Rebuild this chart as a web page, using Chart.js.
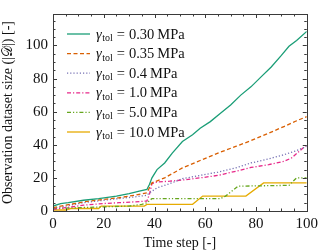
<!DOCTYPE html>
<html>
<head>
<meta charset="utf-8">
<script src="https://cdn.jsdelivr.net/npm/chart.js@4.4.1/dist/chart.umd.min.js"></script>
<style>
    html, body { margin: 0; padding: 0; background: #fff; }
    #wrap { width: 322px; height: 252px; position: relative; }
</style>
</head>
<body>
<div id="wrap"><canvas id="chart"></canvas></div>
<script>
const serif = "'Liberation Serif', 'DejaVu Serif', serif";
const frameColor = "#3a3a3a";

const tolLabels = ["0.30", "0.35", "0.4", "1.0", "5.0", "10.0"];
const lineColors = ["#1b9e77", "#d95f02", "#7570b3", "#e7298a", "#66a61e", "#e6ab02"];
const xTicks = [0, 20, 40, 60, 80, 100];
const yTicks = [0, 20, 40, 60, 80, 100];

// time step / dataset size
const steps030 = [0, 3, 6, 12, 18, 25, 30, 34, 37, 38, 39, 41, 44, 47, 51, 55, 58, 62, 66, 70, 74, 78, 82, 86, 90, 93, 96, 100];
const size030 = [3, 4.5, 5, 6.5, 7.5, 9, 10.5, 12, 13, 16, 20, 25, 29, 35, 42, 46, 50, 54, 59, 64, 70, 75, 81, 87, 94, 99.5, 103, 108.5];

const steps035 = [0, 5, 12, 20, 26, 32, 37, 38, 39, 44, 51, 58, 65, 72, 78, 85, 91, 96, 100];
const size035 = [2, 3.5, 5.5, 7, 8, 9.5, 11, 14, 17, 20, 26, 30.5, 35, 39, 42.5, 47, 51, 54.5, 57];

const steps04 = [0, 5, 12, 20, 26, 32, 37, 38, 41, 46, 51, 58, 65, 72, 78, 85, 91, 96, 100];
const size04 = [1.5, 3, 5, 6.5, 7.5, 8.5, 9.5, 11, 14, 16.5, 19.5, 21.5, 23.5, 26, 29, 31.5, 34, 36.5, 39];

const steps10 = [0, 5, 12, 20, 26, 32, 37, 38, 39, 41, 46, 51, 58, 65, 72, 78, 85, 91, 94, 97, 100];
const size10 = [1, 2, 3.5, 4.5, 5, 5.5, 6, 10, 16.5, 17.5, 18, 18.7, 20, 21.5, 24, 26.3, 28, 30, 32, 36, 40];

const steps50 = [0, 10, 20, 30, 35, 37, 39, 66, 68, 73, 93, 96, 100];
const size50 = [1.5, 2, 2.5, 3, 4, 5, 7.5, 7.5, 9, 15, 15.5, 20, 20];

const steps100 = [0, 5, 7, 18, 19, 36, 37, 55, 59, 76, 83, 100];
const size100 = [0.6, 0.6, 1.5, 1.5, 3, 3, 4, 4, 9, 9, 17, 17];

const stepSeries = [steps030, steps035, steps04, steps10, steps50, steps100];
const sizeSeries = [size030, size035, size04, size10, size50, size100];
const dashes = [[], [4, 2.5], [1.2, 2], [4, 2, 1.2, 2], [4, 2, 1.2, 2, 1.2, 2], []];

function toPoints(xs, ys) {
    return xs.map((x, i) => ({ x: x, y: ys[i] }));
}

const datasets = tolLabels.map((label, i) => ({
    label: label,
    data: toPoints(stepSeries[i], sizeSeries[i]),
    borderColor: lineColors[i],
    borderDash: dashes[i],
    borderWidth: 1.3,
    pointRadius: 0,
    tension: 0,
    fill: false
}));

// box round the plot with inward ticks on all four sides
const framePlugin = {
    id: "frame",
    afterDraw(chart) {
        const { ctx, chartArea: a, scales } = chart;
        ctx.save();
        ctx.strokeStyle = frameColor;
        ctx.lineWidth = 1;
        for (let v = 0; v <= 100; v += 5) {
            const len = v % 20 === 0 ? 4 : 2.5;
            const px = Math.round(scales.x.getPixelForValue(v)) + 0.5;
            ctx.beginPath();
            ctx.moveTo(px, a.bottom); ctx.lineTo(px, a.bottom - len);
            ctx.moveTo(px, a.top); ctx.lineTo(px, a.top + len);
            ctx.stroke();
        }
        for (let v = 0; v <= 115; v += 5) {
            const len = v % 20 === 0 ? 4 : 2.5;
            const py = Math.round(scales.y.getPixelForValue(v)) + 0.5;
            ctx.beginPath();
            ctx.moveTo(a.left, py); ctx.lineTo(a.left + len, py);
            ctx.moveTo(a.right, py); ctx.lineTo(a.right - len, py);
            ctx.stroke();
        }
        ctx.strokeRect(Math.round(a.left) + 0.5, Math.round(a.top) + 0.5,
            Math.round(a.right - a.left), Math.round(a.bottom - a.top));
        ctx.restore();
    }
};

// legend with a subscript, which the built-in legend can't do
const legendPlugin = {
    id: "texLegend",
    afterDatasetsDraw(chart) {
        const { ctx, chartArea: a } = chart;
        const x0 = a.left + 14;
        const y0 = a.top + 20;
        const rowH = 19.6;
        ctx.save();
        chart.data.datasets.forEach((ds, i) => {
            const y = y0 + i * rowH;
            ctx.strokeStyle = ds.borderColor;
            ctx.lineWidth = 1.3;
            ctx.setLineDash(ds.borderDash);
            ctx.beginPath();
            ctx.moveTo(x0, y); ctx.lineTo(x0 + 23, y);
            ctx.stroke();
            ctx.setLineDash([]);

            ctx.fillStyle = "#111";
            ctx.textBaseline = "alphabetic";
            let tx = x0 + 29;
            const base = y + 4.5;
            ctx.font = "italic 14.5px " + serif;
            ctx.fillText("\u03b3", tx, base);
            tx += ctx.measureText("\u03b3").width + 0.5;
            ctx.font = "10px " + serif;
            ctx.fillText("tol", tx, base + 2.5);
            tx += ctx.measureText("tol").width + 4;
            ctx.font = "14.5px " + serif;
            ctx.fillText("=", tx, base);
            tx += ctx.measureText("=").width + 4;
            ctx.fillText(ds.label, tx, base);
            tx += ctx.measureText(ds.label).width + 3;
            ctx.fillText("MPa", tx, base);
        });
        ctx.restore();
    }
};

new Chart(document.getElementById("chart"), {
    type: "line",
    data: { datasets: datasets },
    plugins: [framePlugin, legendPlugin],
    options: {
        responsive: true,
        maintainAspectRatio: false,
        animation: false,
        layout: { padding: { top: 3, right: 15, left: 0, bottom: 0 } },
        plugins: { legend: { display: false }, tooltip: { enabled: false } },
        scales: {
            x: {
                type: "linear",
                min: 0,
                max: 100,
                afterFit: (scale) => { scale.height = 41; },
                afterBuildTicks: (scale) => { scale.ticks = xTicks.map(v => ({ value: v })); },
                grid: { display: false, drawTicks: false },
                border: { display: false },
                ticks: { color: "#111", padding: 4, font: { family: serif, size: 15 } },
                title: {
                    display: true,
                    text: "Time step [-]",
                    color: "#111",
                    padding: { top: 2, bottom: 0 },
                    font: { family: serif, size: 14 }
                }
            },
            y: {
                type: "linear",
                min: 0,
                max: 119,
                afterFit: (scale) => { scale.width = 53; },
                afterBuildTicks: (scale) => { scale.ticks = yTicks.map(v => ({ value: v })); },
                grid: { display: false, drawTicks: false },
                border: { display: false },
                ticks: { color: "#111", padding: 5, font: { family: serif, size: 15 } },
                title: {
                    display: true,
                    text: "Observation dataset size (|\u{1D49F}|) [-]",
                    color: "#111",
                    padding: { top: 0, bottom: 2 },
                    font: { family: serif, size: 14 }
                }
            }
        }
    }
});
</script>
</body>
</html>
